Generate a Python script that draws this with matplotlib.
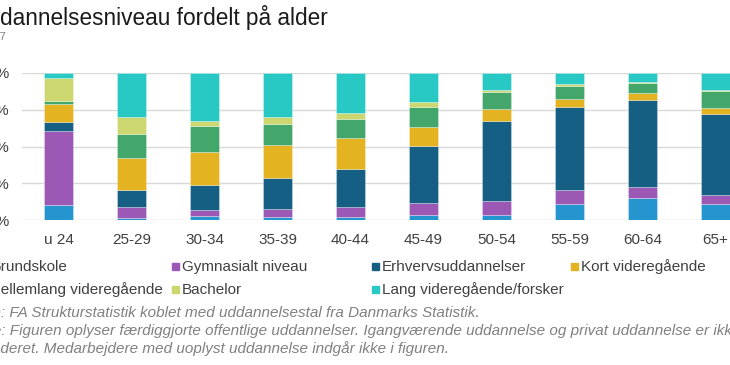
"""
Stacked bar chart: uddannelsesniveau fordelt på alder.
The reference is a cropped screenshot, so text runs off the left/right edge.
"""

import matplotlib
matplotlib.use("Agg")
import matplotlib.pyplot as plt
from matplotlib.patches import Rectangle

plt.rcParams["font.family"] = ["Liberation Sans", "DejaVu Sans"]

# ----------------------------------------------------------
# DATA (percent of employees per age group)
# ----------------------------------------------------------
age_groups = ["u 24", "25-29", "30-34", "35-39", "40-44",
              "45-49", "50-54", "55-59", "60-64", "65+"]

grundskole = [10.0, 1.6, 2.7, 2.0, 2.0, 3.2, 3.4, 10.7, 15.2, 11.1]
gymnasialt = [50.5, 7.0, 4.1, 5.3, 7.1, 8.2, 9.5, 9.5, 7.2, 5.7]
erhverv = [6.4, 12.0, 17.0, 21.5, 25.6, 38.9, 54.4, 56.7, 59.2, 55.3]
kort_vid = [12.0, 21.4, 22.7, 22.4, 20.9, 13.2, 8.0, 5.2, 4.6, 4.3]
mellemlang = [2.3, 16.5, 17.7, 14.3, 12.9, 13.6, 12.0, 8.9, 7.2, 11.4]
bachelor = [15.6, 11.4, 3.1, 4.8, 4.5, 3.0, 1.3, 1.5, 0.7, 0.8]
lang_vid = [3.2, 30.1, 32.7, 29.7, 27.0, 19.9, 11.4, 7.5, 5.9, 11.4]

series_names = ["Grundskole", "Gymnasialt niveau", "Erhvervsuddannelser",
                "Kort videregående", "Mellemlang videregående", "Bachelor",
                "Lang videregående/forsker"]
series_values = [grundskole, gymnasialt, erhverv, kort_vid,
                 mellemlang, bachelor, lang_vid]
series_colors = ["#2595CF", "#9B59B5", "#155E84", "#E3B321",
                 "#43A66A", "#CCD76F", "#28C9C4"]

y_ticks = [0, 25, 50, 75, 100]
y_tick_labels = ["0 %", "25 %", "50 %", "75 %", "100 %"]

title = "Uddannelsesniveau fordelt på alder"
subtitle = "2017"
source = "Kilde: FA Strukturstatistik koblet med uddannelsestal fra Danmarks Statistik."
note1 = ("Note: Figuren oplyser færdiggjorte offentlige uddannelser. "
         "Igangværende uddannelse og privat uddannelse er ikke")
note2 = "inkluderet. Medarbejdere med uoplyst uddannelse indgår ikke i figuren."

# ----------------------------------------------------------
# FIGURE
# ----------------------------------------------------------
W, H = 730, 365
fig = plt.figure(figsize=(W / 100, H / 100), dpi=100)
renderer = fig.canvas.get_renderer()


def fx(px):
    return px / W


def fy(px):
    return 1 - px / H


def cut_text(x_px, y_px, hidden, full, **kw):
    """Place `full` so that its `hidden` prefix ends at x_px (off the left edge)."""
    tmp = fig.text(0, 0, hidden, **kw)
    w = tmp.get_window_extent(renderer).width
    tmp.remove()
    fig.text(fx(x_px - w), fy(y_px), full, va="baseline", **kw)


# plot area: 0 % at y=220 px, 100 % at y=73 px, 73 px per category
ax = fig.add_axes([fx(22), fy(220), 1.0, 147 / H])
ax.set_xlim(-0.5, 9.5)
ax.set_ylim(0, 100)

x = range(len(age_groups))
bottom = [0.0] * len(age_groups)
for name, vals, col in zip(series_names, series_values, series_colors):
    ax.bar(x, vals, width=0.4, bottom=bottom, color=col,
           edgecolor=(1, 1, 1, 0.35), linewidth=0.6, zorder=3)
    bottom = [b + v for b, v in zip(bottom, vals)]

ax.set_yticks(y_ticks)
ax.set_yticklabels(y_tick_labels)
ax.set_xticks(list(x))
ax.set_xticklabels(age_groups)
ax.tick_params(axis="both", length=0, labelsize=11, labelcolor="#404040")
ax.tick_params(axis="y", pad=9.5)
ax.tick_params(axis="x", pad=9)
ax.grid(axis="y", color="#D9D9D9", linewidth=1.0, zorder=0)
for s in ax.spines.values():
    s.set_visible(False)

# ----------------------------------------------------------
# TITLE / SUBTITLE
# ----------------------------------------------------------
cut_text(0, 25, "Ud", title, fontsize=16.3, color="#1A1A1A")
cut_text(0, 40, "201", subtitle, fontsize=8, color="#7F7F7F")

# ----------------------------------------------------------
# LEGEND (drawn by hand to match the fixed column grid)
# ----------------------------------------------------------
legend_slots = [(-21, 266), (172, 266), (372, 266), (571, 266),
                (-22, 289), (172, 289), (372, 289)]
for name, col, (lx, ly) in zip(series_names, series_colors, legend_slots):
    fig.patches.append(Rectangle((fx(lx), fy(ly + 3.5)), 7 / W, 7 / H,
                                 transform=fig.transFigure, color=col))
    fig.text(fx(lx + 10), fy(ly + 5), name, fontsize=11, color="#404040",
             va="baseline")

# ----------------------------------------------------------
# FOOTNOTES
# ----------------------------------------------------------
foot_kw = dict(fontsize=11, color="#808080", style="italic")
cut_text(1, 317, "Kilde", source, **foot_kw)
cut_text(1, 335, "Note", note1, **foot_kw)
cut_text(0, 353, "inklu", note2, **foot_kw)

fig.savefig("out.png", dpi=100)
